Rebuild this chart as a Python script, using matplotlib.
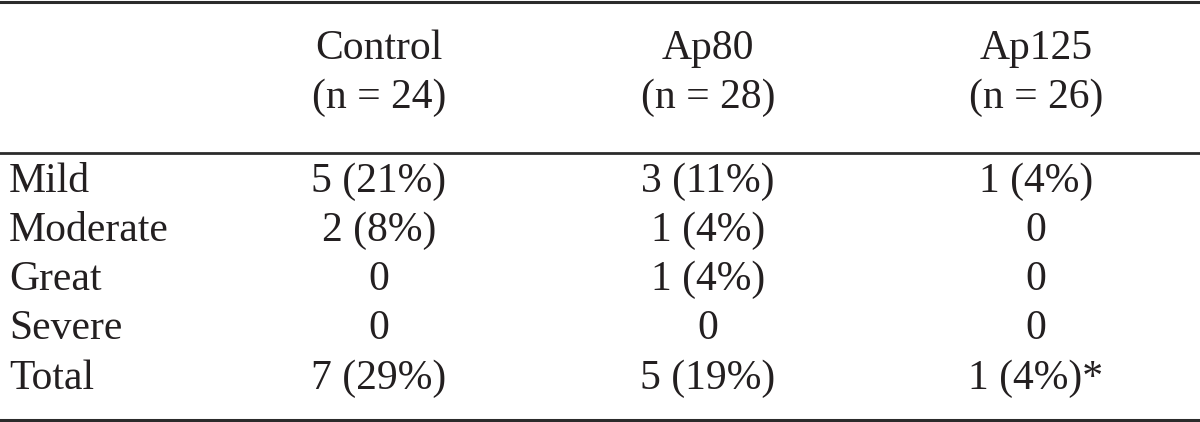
import matplotlib
matplotlib.use("Agg")
import matplotlib.pyplot as plt

columns = ["Control\n(n = 24)", "Ap80\n(n = 28)", "Ap125\n(n = 26)"]
rows = ["Mild", "Moderate", "Great", "Severe", "Total"]
control = ["5 (21%)", "2 (8%)", "0", "0", "7 (29%)"]
ap80 = ["3 (11%)", "1 (4%)", "1 (4%)", "0", "5 (19%)"]
ap125 = ["1 (4%)", "0", "0", "0", "1 (4%)*"]

plt.rcParams['font.family'] = ['Liberation Serif', 'DejaVu Serif']

fig = plt.figure(figsize=(12, 4.22), dpi=100)
ax = fig.add_axes([0, 0, 1, 1])
ax.set_xlim(0, 1200)
ax.set_ylim(422, 0)
ax.axis('off')

fs = 30
col_x = [379, 708, 1036]
row_y = [182, 231, 280, 329, 379]
text_color = "#231f20"
line_color = "#2b2b2b"

ax.axhline(2, color=line_color, lw=2.2)
ax.axhline(153, color=line_color, lw=2.0)
ax.axhline(419.5, color=line_color, lw=2.2)

for x, c in zip(col_x, columns):
    top, bot = c.split("\n")
    ax.text(x, 49, top, ha='center', va='center', fontsize=fs, color=text_color)
    ax.text(x, 98, bot, ha='center', va='center', fontsize=fs, color=text_color)

for y, r in zip(row_y, rows):
    ax.text(9, y, r, ha='left', va='center', fontsize=fs, color=text_color)

for x, vals in zip(col_x, [control, ap80, ap125]):
    for y, v in zip(row_y, vals):
        ax.text(x, y, v, ha='center', va='center', fontsize=fs, color=text_color)

fig.savefig("out.png", dpi=100)
